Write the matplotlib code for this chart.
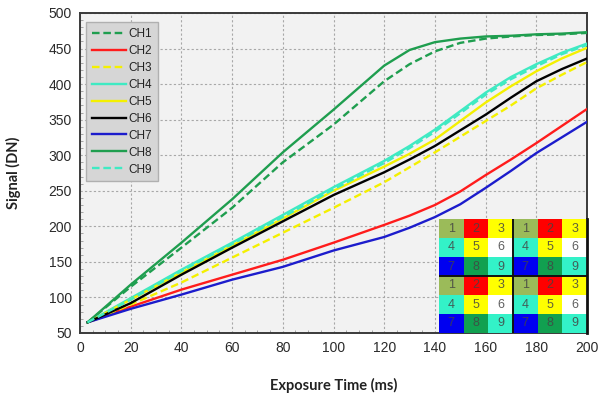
import numpy as np
import matplotlib
matplotlib.use("Agg")
import matplotlib.pyplot as plt
from matplotlib.colors import ListedColormap
from matplotlib.ticker import MultipleLocator

# ---------------- data ----------------
exposure = [3, 20, 40, 60, 80, 100, 120, 130, 140, 150, 160, 170, 180, 190, 200]
ch1 = [65, 115, 170, 226, 290, 343, 404, 428, 446, 458, 464, 467, 469, 470, 472]
ch2 = [65, 87, 111, 132, 153, 177, 202, 215, 230, 249, 272, 294, 317, 341, 365]
ch3 = [65, 90, 121, 156, 191, 226, 262, 283, 304, 326, 348, 370, 394, 413, 431]
ch4 = [65, 99, 139, 177, 216, 255, 292, 313, 336, 362, 388, 410, 428, 444, 457]
ch5 = [65, 97, 135, 173, 211, 250, 284, 302, 322, 348, 374, 397, 418, 436, 451]
ch6 = [65, 92, 132, 170, 207, 244, 276, 294, 313, 335, 357, 381, 404, 421, 436]
ch7 = [65, 84, 104, 125, 143, 166, 185, 198, 213, 231, 254, 278, 303, 325, 347]
ch8 = [65, 118, 177, 238, 304, 364, 426, 448, 459, 464, 467, 468, 470, 471, 473]
ch9 = [65, 97, 137, 175, 213, 252, 289, 310, 333, 359, 385, 407, 425, 442, 455]

labels = ["CH1", "CH2", "CH3", "CH4", "CH5", "CH6", "CH7", "CH8", "CH9"]
series = [ch1, ch2, ch3, ch4, ch5, ch6, ch7, ch8, ch9]

x_ticks = [0, 20, 40, 60, 80, 100, 120, 140, 160, 180, 200]
y_ticks = [50, 100, 150, 200, 250, 300, 350, 400, 450, 500]

# channel layout of the inset map
cell_block = [[1, 2, 3], [4, 5, 6], [7, 8, 9]]

# ---------------- style ----------------
green = "#1f9e4f"
turq = "#3feac3"
yellow = "#f4f000"
styles = {
    "CH1": dict(color=green, ls=(0, (3.2, 1.6))),
    "CH2": dict(color="#ff1c1c", ls="-"),
    "CH3": dict(color=yellow, ls=(0, (3.2, 1.6))),
    "CH4": dict(color=turq, ls="-"),
    "CH5": dict(color=yellow, ls="-"),
    "CH6": dict(color="#000000", ls="-"),
    "CH7": dict(color="#1c1ccc", ls="-"),
    "CH8": dict(color=green, ls="-"),
    "CH9": dict(color=turq, ls=(0, (3.2, 1.6))),
}
zorders = {"CH1": 3, "CH2": 3, "CH3": 3, "CH4": 3, "CH5": 3, "CH6": 4,
           "CH7": 3, "CH8": 4, "CH9": 4}

plt.rcParams["font.family"] = ["Liberation Sans", "DejaVu Sans"]

fig = plt.figure(figsize=(5.98, 4.03), dpi=100)
fig.patch.set_facecolor("white")
ax = fig.add_axes([80 / 598, 70 / 403, 507 / 598, 320 / 403])
ax.set_facecolor("#f2f2f2")

handles = []
for lab, ys in zip(labels, series):
    st = styles[lab]
    h, = ax.plot(exposure, ys, color=st["color"], linestyle=st["ls"],
                 lw=1.7, label=lab, zorder=zorders[lab])
    handles.append(h)

ax.set_xlim(0, 200)
ax.set_ylim(50, 500)
ax.set_xticks(x_ticks)
ax.set_yticks(y_ticks)
ax.xaxis.set_minor_locator(MultipleLocator(5))
ax.yaxis.set_minor_locator(MultipleLocator(10))
ax.tick_params(axis="both", which="major", length=0, labelsize=10,
               labelcolor="#2a2a2a", pad=6)
ax.tick_params(axis="both", which="minor", direction="in", length=2.5,
               color="#999999", width=0.6)
ax.grid(True, which="major", color="#a8a8a8", linestyle=(0, (2, 2)), lw=0.8)
for sp in ax.spines.values():
    sp.set_color("#3a3a3a")
    sp.set_linewidth(1.4)

lab_font = dict(family=["Lato", "DejaVu Sans"], weight="bold", size=10.5,
                color="#222222")
ax.set_xlabel("Exposure Time (ms)", labelpad=16, **lab_font)
ax.set_ylabel("Signal (DN)", labelpad=20, **lab_font)

leg = ax.legend(handles=handles, loc="upper left",
                bbox_to_anchor=(0.012, 0.972), fontsize=8.5,
                handlelength=2.9, handletextpad=0.15, labelspacing=0.42,
                borderpad=0.5, borderaxespad=0, frameon=True, fancybox=False)
leg.get_frame().set_facecolor("#d6d6d6")
leg.get_frame().set_edgecolor("#b0b0b0")
leg.get_frame().set_alpha(1)
for t in leg.get_texts():
    t.set_color("#222222")

# ---------------- inset channel map ----------------
grid = np.tile(np.array(cell_block), (2, 2))
cell_colors = ["#9bbb59", "#ff0000", "#ffff00", "#33f2c8", "#ffff00",
               "#ffffff", "#0000f0", "#11a050", "#33f2c8"]
cmap = ListedColormap(cell_colors)
iax = fig.add_axes([439 / 598, 70 / 403, 148 / 598, 114 / 403])
iax.imshow(grid - 1, cmap=cmap, vmin=-0.5, vmax=8.5, aspect="auto",
           interpolation="nearest")
for r in range(grid.shape[0]):
    for c in range(grid.shape[1]):
        iax.text(c, r, str(grid[r, c]), ha="center", va="center",
                 fontsize=9, color="#444444", alpha=0.85)
iax.axvline(2.5, color="#111111", lw=1.4)
iax.axhline(2.5, color="#111111", lw=1.4)
iax.set_xticks([])
iax.set_yticks([])
for name, sp in iax.spines.items():
    sp.set_visible(name == "right")
    sp.set_color("#111111")
    sp.set_linewidth(2)

fig.savefig("out.png", dpi=100, facecolor="white")
